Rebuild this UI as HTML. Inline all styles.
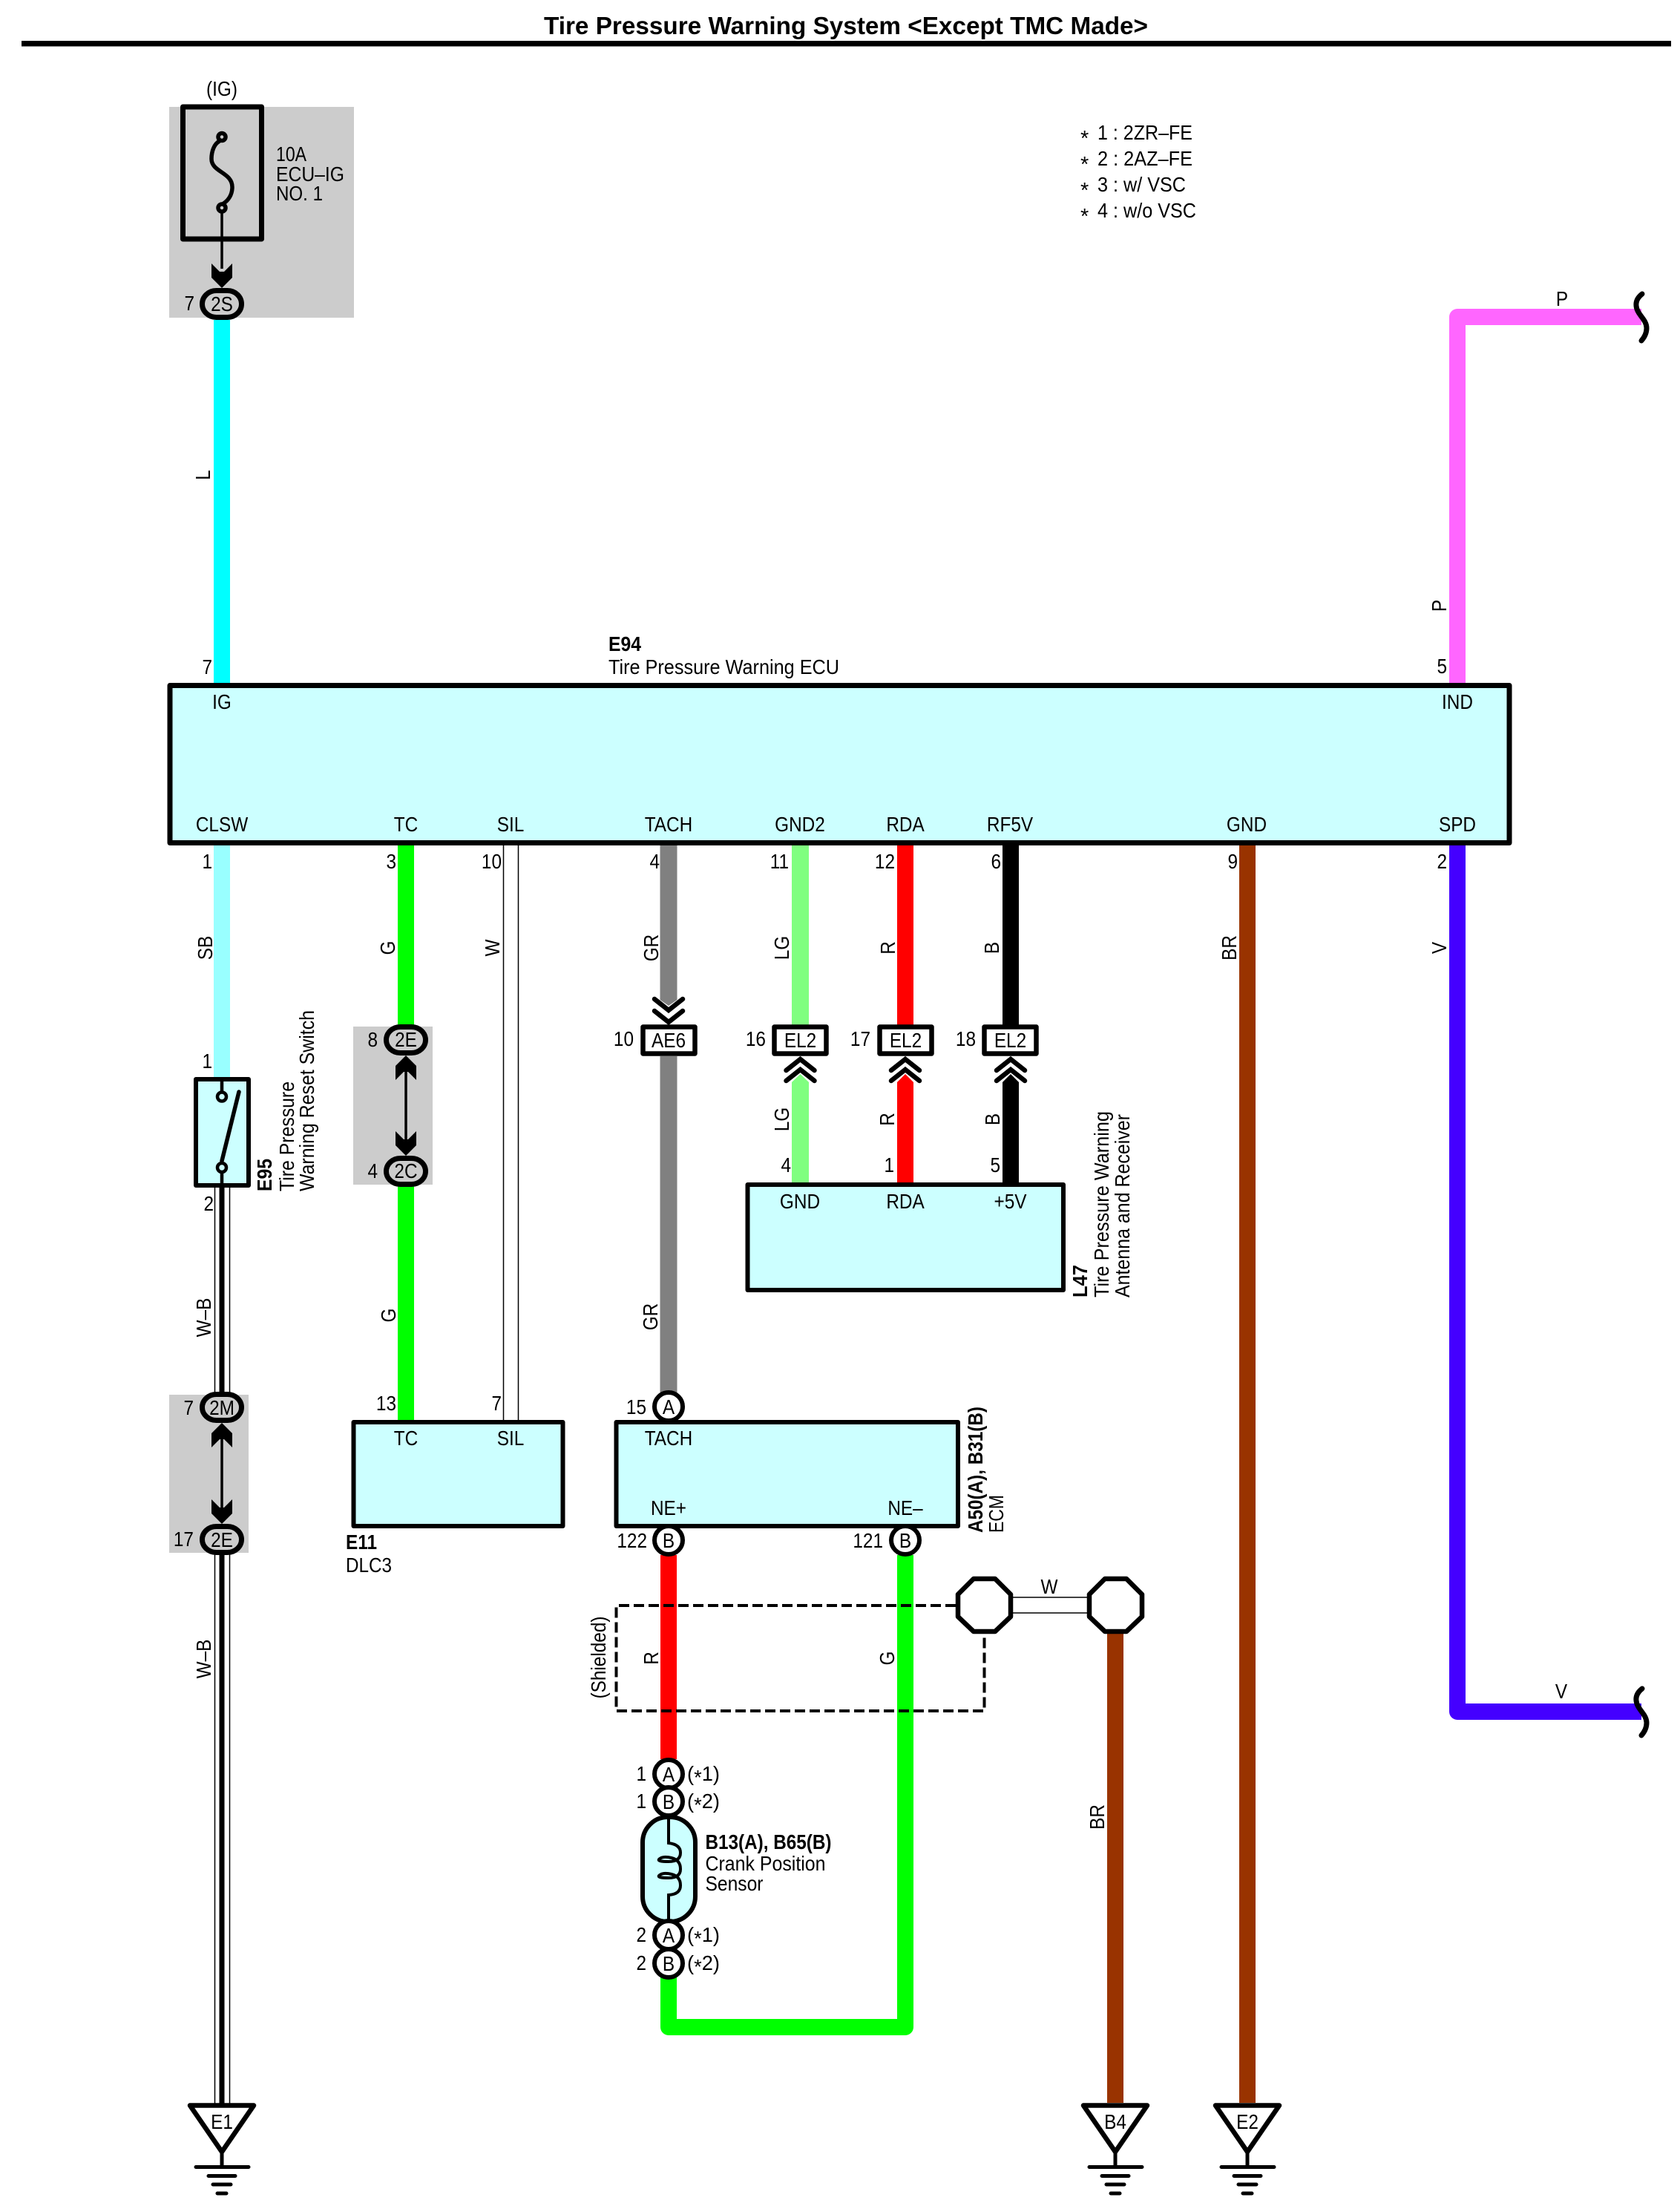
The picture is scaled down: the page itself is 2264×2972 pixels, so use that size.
<!DOCTYPE html>
<html lang="en"><head><meta charset="utf-8"><title>Tire Pressure Warning System</title>
<style>
html,body{margin:0;padding:0;background:#fff}
svg{display:block}
text{font-family:"Liberation Sans",sans-serif;font-size:28px;fill:#000;transform-box:fill-box}
.m{text-anchor:middle;transform-origin:50% 50%;transform:scaleX(.87)}
.e{text-anchor:end;transform-origin:100% 50%;transform:scaleX(.87)}
.b{font-weight:bold}
</style></head><body>
<svg xmlns="http://www.w3.org/2000/svg" width="2264" height="2972" viewBox="0 0 2264 2972">
<rect width="2264" height="2972" fill="#fff"/>

<text x="733" y="46" font-weight="bold" style="font-size:33px" textLength="814" lengthAdjust="spacingAndGlyphs">Tire Pressure Warning System &lt;Except TMC Made&gt;</text>
<rect x="29" y="55" width="2223" height="7.5" fill="#000"/>

<text x="1456" y="196" style="font-size:29px">*</text><text x="1479" y="188" textLength="128" lengthAdjust="spacingAndGlyphs">1 : 2ZR–FE</text>
<text x="1456" y="231" style="font-size:29px">*</text><text x="1479" y="223" textLength="128" lengthAdjust="spacingAndGlyphs">2 : 2AZ–FE</text>
<text x="1456" y="266" style="font-size:29px">*</text><text x="1479" y="258" textLength="119" lengthAdjust="spacingAndGlyphs">3 : w/ VSC</text>
<text x="1456" y="301" style="font-size:29px">*</text><text x="1479" y="293" textLength="133" lengthAdjust="spacingAndGlyphs">4 : w/o VSC</text>

<!-- grey zones -->
<rect x="228" y="144" width="249" height="284" fill="#ccc"/>
<rect x="476" y="1383" width="107" height="213" fill="#ccc"/>
<rect x="228" y="1879" width="107" height="213" fill="#ccc"/>

<!-- wires -->
<g fill="none" stroke-linecap="butt">
<path d="M299 431V922" stroke="#00ffff" stroke-width="22"/>
<path d="M1964 922V427H2212" stroke="#ff66ff" stroke-width="22" stroke-linejoin="round"/>
<path d="M1964 1137V2306H2212" stroke="#4400ff" stroke-width="22" stroke-linejoin="round"/>
<path d="M299 1137V1453" stroke="#99ffff" stroke-width="22"/>
<path d="M547 1137V1382M547 1597V1915" stroke="#00ff00" stroke-width="22"/>
<path d="M901 1137V1347M901 1423V1876" stroke="#808080" stroke-width="23"/>
<path d="M1078.5 1137V1381M1078.5 1458V1595" stroke="#80ff80" stroke-width="23"/>
<path d="M1220 1137V1381M1220 1458V1595" stroke="#ff0000" stroke-width="22"/>
<path d="M1362 1137V1381M1362 1458V1595" stroke="#000" stroke-width="22"/>
<path d="M1681 1137V2833" stroke="#993300" stroke-width="22"/>
<path d="M1503 2200V2833" stroke="#993300" stroke-width="22"/>
<path d="M901 2095V2370" stroke="#ff0000" stroke-width="22"/>
<path d="M1220 2095V2731H901V2662" stroke="#00ff00" stroke-width="22" stroke-linejoin="round"/>
<path d="M678.5 1137V1915M698.5 1137V1915" stroke="#000" stroke-width="1.5"/>
<path d="M289.5 1600V1880M309.5 1600V1880M289.5 2090V2836M309.5 2090V2836" stroke="#000" stroke-width="1.5"/>
<path d="M299 1600V1880M299 2090V2836" stroke="#000" stroke-width="7"/>
<path d="M1365 2152H1466M1365 2173H1466" stroke="#000" stroke-width="1.5"/>
</g>
<polygon points="889.5,1347 901,1355 912.5,1347" fill="#808080"/>
<polygon points="1067,1458 1078.5,1447 1090,1458" fill="#80ff80"/>
<polygon points="1209,1458 1220,1447 1231,1458" fill="#ff0000"/>
<polygon points="1351,1458 1362,1447 1373,1458" fill="#000"/>

<!-- squiggles -->
<g fill="none" stroke="#000" stroke-width="7" stroke-linecap="round">
<path d="M2213 396Q2204 403 2205 412C2206 424 2219 430 2219 442Q2219 451 2212 459"/>
<path d="M2213 2275Q2204 2282 2205 2291C2206 2303 2219 2309 2219 2321Q2219 2330 2212 2338"/>
</g>

<!-- boxes -->
<g fill="#ccffff" stroke="#000" stroke-linejoin="round">
<rect x="229" y="923.5" width="1805" height="212" stroke-width="7"/>
<rect x="264" y="1454" width="71" height="143" stroke-width="6"/>
<rect x="476.5" y="1916" width="282" height="140" stroke-width="6"/>
<rect x="830.5" y="1916" width="460.5" height="140" stroke-width="6"/>
<rect x="1007.5" y="1596" width="425.5" height="142" stroke-width="6"/>
<rect x="866" y="2448" width="71" height="141" rx="34" ry="34" stroke-width="6"/>
</g>

<!-- fuse -->
<rect x="246.5" y="144" width="106" height="178" fill="none" stroke="#000" stroke-width="7" stroke-linejoin="round"/>
<g fill="none" stroke="#000" stroke-width="5.500">
<path d="M296 190C288 194 285 205 285 214C285 232 313 232 313 252C313 262 308 270 300 275"/>
<circle cx="299" cy="184.500" r="5"/>
<circle cx="299" cy="280" r="5"/>
</g>
<path d="M299 286V362" stroke="#000" stroke-width="3.500"/>
<polygon points="299,388 313,374 313,355 302,366 296,366 285,355 285,374" fill="#000"/>

<!-- switch -->
<g fill="none" stroke="#000" stroke-width="4.500">
<path d="M299 1454V1471M299 1580V1597"/>
<circle cx="299" cy="1477.500" r="6"/>
<circle cx="299" cy="1573" r="6"/>
</g>
<path d="M299 1564L322 1471" stroke="#000" stroke-width="5.500" stroke-linecap="round"/>

<!-- jumper arrows -->
<path d="M547 1440V1540M299 1935V2035" stroke="#000" stroke-width="3.500"/>
<polygon points="547,1422 561,1436 561,1455 550,1444 544,1444 533,1455 533,1436" fill="#000"/>
<polygon points="547,1557 561,1543 561,1524 550,1535 544,1535 533,1524 533,1543" fill="#000"/>
<polygon points="299,1917 313,1931 313,1950 302,1939 296,1939 285,1950 285,1931" fill="#000"/>
<polygon points="299,2053 313,2039 313,2020 302,2031 296,2031 285,2020 285,2039" fill="#000"/>

<!-- oval connectors -->
<g fill="#ccc" stroke="#000" stroke-width="7">
<rect x="272.500" y="391.500" width="53" height="36" rx="19" ry="18"/>
<rect x="520.500" y="1383.500" width="53" height="35" rx="19" ry="17.500"/>
<rect x="520.500" y="1560.500" width="53" height="35" rx="19" ry="17.500"/>
<rect x="272.500" y="1878.500" width="53" height="35" rx="19" ry="17.500"/>
<rect x="272.500" y="2056.500" width="53" height="35" rx="19" ry="17.500"/>
</g>

<!-- rect connectors -->
<g fill="#fff" stroke="#000" stroke-width="6.500" stroke-linejoin="round">
<rect x="866.500" y="1383.500" width="70" height="36"/>
<rect x="1043.500" y="1383.500" width="70" height="36"/>
<rect x="1185.500" y="1383.500" width="70" height="36"/>
<rect x="1326.500" y="1383.500" width="70" height="36"/>
</g>

<!-- double chevrons -->
<g fill="none" stroke="#000" stroke-width="6.500" stroke-linecap="round" stroke-linejoin="miter">
<path d="M882 1346L901 1361L920 1346M882 1362L901 1377L920 1362"/>
<path d="M1059.500 1442L1078.500 1427L1097.500 1442M1059.500 1456L1078.500 1441L1097.500 1456"/>
<path d="M1201 1442L1220 1427L1239 1442M1201 1456L1220 1441L1239 1456"/>
<path d="M1343 1442L1362 1427L1381 1442M1343 1456L1362 1441L1381 1456"/>
</g>

<!-- round connectors -->
<g fill="#fff" stroke="#000" stroke-width="6">
<circle cx="901" cy="1895" r="19"/>
<circle cx="901" cy="2075" r="19"/>
<circle cx="1220" cy="2075" r="19"/>
<circle cx="901" cy="2390" r="19"/>
<circle cx="901" cy="2427" r="19"/>
<circle cx="901" cy="2607" r="19"/>
<circle cx="901" cy="2645" r="19"/>
</g>

<!-- sensor coil -->
<g fill="none" stroke="#000" stroke-width="4">
<path d="M901 2446V2483Q917 2485 917 2496Q917 2508 901 2508Q886 2508 888 2505Q893 2500 905 2503Q917 2506 917 2518Q917 2530 901 2530Q886 2530 888 2527Q893 2522 905 2525Q917 2528 917 2540Q917 2552 901 2553V2590"/>
</g>

<!-- shield -->
<path d="M1288 2163H830.500V2305H1326.500V2201" fill="none" stroke="#000" stroke-width="4" stroke-dasharray="14 6"/>
<g fill="#fff" stroke="#000" stroke-width="6.500" stroke-linejoin="round">
<polygon points="1312,2127 1341,2127 1362,2148 1362,2178 1341,2198 1312,2198 1291,2178 1291,2148"/>
<polygon points="1489,2127 1518,2127 1539,2148 1539,2178 1518,2198 1489,2198 1468,2178 1468,2148"/>
</g>

<!-- grounds -->
<g fill="#fff" stroke="#000" stroke-width="6.500" stroke-linejoin="round">
<polygon points="256,2836.500 342,2836.500 299,2899"/>
<polygon points="1460,2836.500 1546,2836.500 1503,2899"/>
<polygon points="1638,2836.500 1724,2836.500 1681,2899"/>
</g>
<g stroke="#000" stroke-width="5" stroke-linecap="round">
<path d="M299 2900V2919M264 2919.500H335M281 2931.500H317M287 2943H311M293 2955H305"/>
<path d="M1503 2900V2919M1468 2919.500H1539M1485 2931.500H1521M1491 2943H1515M1497 2955H1509"/>
<path d="M1681 2900V2919M1646 2919.500H1717M1663 2931.500H1699M1669 2943H1693M1675 2955H1687"/>
</g>

<!-- fuse text -->
<text class="m" x="299" y="129">(IG)</text>
<text x="372" y="217" textLength="41" lengthAdjust="spacingAndGlyphs">10A</text>
<text x="372" y="244" textLength="92" lengthAdjust="spacingAndGlyphs">ECU–IG</text>
<text x="372" y="270" textLength="63" lengthAdjust="spacingAndGlyphs">NO. 1</text>

<!-- connector texts -->
<text class="m" x="299" y="419">2S</text>
<text class="m" x="547" y="1410">2E</text>
<text class="m" x="547" y="1587">2C</text>
<text class="m" x="299" y="1906">2M</text>
<text class="m" x="299" y="2084">2E</text>
<text class="m" x="901" y="1411">AE6</text>
<text class="m" x="1078.500" y="1411">EL2</text>
<text class="m" x="1220.500" y="1411">EL2</text>
<text class="m" x="1361.500" y="1411">EL2</text>
<text class="m" x="901" y="1905">A</text>
<text class="m" x="901" y="2085">B</text>
<text class="m" x="1220" y="2085">B</text>
<text class="m" x="901" y="2400">A</text>
<text class="m" x="901" y="2437">B</text>
<text class="m" x="901" y="2617">A</text>
<text class="m" x="901" y="2655">B</text>
<text class="m" x="299" y="2868">E1</text>
<text class="m" x="1503" y="2868">B4</text>
<text class="m" x="1681" y="2868">E2</text>

<!-- ECU pins -->
<text class="m" x="299" y="955">IG</text>
<text class="m" x="1964" y="955">IND</text>
<text class="m" x="299" y="1120">CLSW</text>
<text class="m" x="547" y="1120">TC</text>
<text class="m" x="688" y="1120">SIL</text>
<text class="m" x="901" y="1120">TACH</text>
<text class="m" x="1078" y="1120">GND2</text>
<text class="m" x="1220" y="1120">RDA</text>
<text class="m" x="1361" y="1120">RF5V</text>
<text class="m" x="1680" y="1120">GND</text>
<text class="m" x="1964" y="1120">SPD</text>
<text x="820" y="877" class="b" textLength="44" lengthAdjust="spacingAndGlyphs">E94</text>
<text x="820" y="908" textLength="311" lengthAdjust="spacingAndGlyphs">Tire Pressure Warning ECU</text>

<!-- pin numbers -->
<text class="e" x="262" y="418">7</text>
<text class="e" x="286" y="908">7</text>
<text class="e" x="1950" y="907">5</text>
<text class="e" x="286" y="1170">1</text>
<text class="e" x="534" y="1170">3</text>
<text class="e" x="676" y="1170">10</text>
<text class="e" x="889" y="1170">4</text>
<text class="e" x="1063" y="1170">11</text>
<text class="e" x="1206" y="1170">12</text>
<text class="e" x="1349" y="1170">6</text>
<text class="e" x="1668" y="1170">9</text>
<text class="e" x="1950" y="1170">2</text>
<text class="e" x="286" y="1439">1</text>
<text class="e" x="288" y="1631">2</text>
<text class="e" x="509" y="1410">8</text>
<text class="e" x="509" y="1587">4</text>
<text class="e" x="261" y="1906">7</text>
<text class="e" x="261" y="2083">17</text>
<text class="e" x="854" y="1409">10</text>
<text class="e" x="1032" y="1409">16</text>
<text class="e" x="1173" y="1409">17</text>
<text class="e" x="1315" y="1409">18</text>
<text class="e" x="1066" y="1579">4</text>
<text class="e" x="1205" y="1579">1</text>
<text class="e" x="1348" y="1579">5</text>
<text class="e" x="534" y="1900">13</text>
<text class="e" x="676" y="1900">7</text>
<text class="e" x="871" y="1905">15</text>
<text class="e" x="872" y="2085">122</text>
<text class="e" x="1190" y="2085">121</text>
<text class="e" x="871" y="2399">1</text>
<text class="e" x="871" y="2436">1</text>
<text class="e" x="871" y="2616">2</text>
<text class="e" x="871" y="2654">2</text>
<text x="926" y="2399" textLength="44" lengthAdjust="spacingAndGlyphs">(<tspan dy="5">*</tspan><tspan dy="-5">1)</tspan></text>
<text x="926" y="2436" textLength="44" lengthAdjust="spacingAndGlyphs">(<tspan dy="5">*</tspan><tspan dy="-5">2)</tspan></text>
<text x="926" y="2616" textLength="44" lengthAdjust="spacingAndGlyphs">(<tspan dy="5">*</tspan><tspan dy="-5">1)</tspan></text>
<text x="926" y="2654" textLength="44" lengthAdjust="spacingAndGlyphs">(<tspan dy="5">*</tspan><tspan dy="-5">2)</tspan></text>

<!-- component pins -->
<text class="m" x="1078" y="1628">GND</text>
<text class="m" x="1220" y="1628">RDA</text>
<text class="m" x="1361.500" y="1628">+5V</text>
<text class="m" x="547" y="1947">TC</text>
<text class="m" x="688" y="1947">SIL</text>
<text class="m" x="901" y="1947">TACH</text>
<text class="m" x="901" y="2041">NE+</text>
<text class="m" x="1220" y="2041">NE–</text>
<text x="466" y="2087" class="b" textLength="42" lengthAdjust="spacingAndGlyphs">E11</text>
<text x="466" y="2118" textLength="62" lengthAdjust="spacingAndGlyphs">DLC3</text>
<text x="950.500" y="2491" class="b" textLength="170" lengthAdjust="spacingAndGlyphs">B13(A), B65(B)</text>
<text x="950.500" y="2520" textLength="162" lengthAdjust="spacingAndGlyphs">Crank Position</text>
<text x="950.500" y="2547" textLength="78" lengthAdjust="spacingAndGlyphs">Sensor</text>

<!-- horizontal wire labels -->
<text class="m" x="2105" y="412">P</text>
<text class="m" x="2104" y="2288">V</text>
<text class="m" x="1414" y="2147">W</text>

<!-- rotated wire labels -->
<g transform="rotate(-90 283 640)"><text class="m" x="283" y="640">L</text></g>
<g transform="rotate(-90 1949 816)"><text class="m" x="1949" y="816">P</text></g>
<g transform="rotate(-90 286 1277)"><text class="m" x="286" y="1277">SB</text></g>
<g transform="rotate(-90 532 1277)"><text class="m" x="532" y="1277">G</text></g>
<g transform="rotate(-90 673 1277)"><text class="m" x="673" y="1277">W</text></g>
<g transform="rotate(-90 887 1277)"><text class="m" x="887" y="1277">GR</text></g>
<g transform="rotate(-90 1063 1277)"><text class="m" x="1063" y="1277">LG</text></g>
<g transform="rotate(-90 1206 1277)"><text class="m" x="1206" y="1277">R</text></g>
<g transform="rotate(-90 1346 1277)"><text class="m" x="1346" y="1277">B</text></g>
<g transform="rotate(-90 1666 1277)"><text class="m" x="1666" y="1277">BR</text></g>
<g transform="rotate(-90 1949 1277)"><text class="m" x="1949" y="1277">V</text></g>
<g transform="rotate(-90 1063 1508)"><text class="m" x="1063" y="1508">LG</text></g>
<g transform="rotate(-90 1205 1508)"><text class="m" x="1205" y="1508">R</text></g>
<g transform="rotate(-90 1347 1508)"><text class="m" x="1347" y="1508">B</text></g>
<g transform="rotate(-90 284 1775)"><text class="m" x="284" y="1775">W–B</text></g>
<g transform="rotate(-90 533 1772)"><text class="m" x="533" y="1772">G</text></g>
<g transform="rotate(-90 886 1774)"><text class="m" x="886" y="1774">GR</text></g>
<g transform="rotate(-90 284 2235)"><text class="m" x="284" y="2235">W–B</text></g>
<g transform="rotate(-90 887 2234)"><text class="m" x="887" y="2234">R</text></g>
<g transform="rotate(-90 1205 2234)"><text class="m" x="1205" y="2234">G</text></g>
<g transform="rotate(-90 1488 2448)"><text class="m" x="1488" y="2448">BR</text></g>
<g transform="rotate(-90 816 2233)"><text class="m" x="816" y="2233">(Shielded)</text></g>

<!-- rotated component labels -->
<g transform="rotate(-90 366 1605)"><text x="366" y="1605" class="b" textLength="44" lengthAdjust="spacingAndGlyphs">E95</text></g>
<g transform="rotate(-90 396 1605)"><text x="396" y="1605" textLength="148" lengthAdjust="spacingAndGlyphs">Tire Pressure</text></g>
<g transform="rotate(-90 423 1605)"><text x="423" y="1605" textLength="244" lengthAdjust="spacingAndGlyphs">Warning Reset Switch</text></g>
<g transform="rotate(-90 1465 1748)"><text x="1465" y="1748" class="b" textLength="44" lengthAdjust="spacingAndGlyphs">L47</text></g>
<g transform="rotate(-90 1494 1748)"><text x="1494" y="1748" textLength="251" lengthAdjust="spacingAndGlyphs">Tire Pressure Warning</text></g>
<g transform="rotate(-90 1522 1748)"><text x="1522" y="1748" textLength="247" lengthAdjust="spacingAndGlyphs">Antenna and Receiver</text></g>
<g transform="rotate(-90 1324 2065)"><text x="1324" y="2065" class="b" textLength="170" lengthAdjust="spacingAndGlyphs">A50(A), B31(B)</text></g>
<g transform="rotate(-90 1352 2065)"><text x="1352" y="2065" textLength="51" lengthAdjust="spacingAndGlyphs">ECM</text></g>
</svg>
</body></html>
